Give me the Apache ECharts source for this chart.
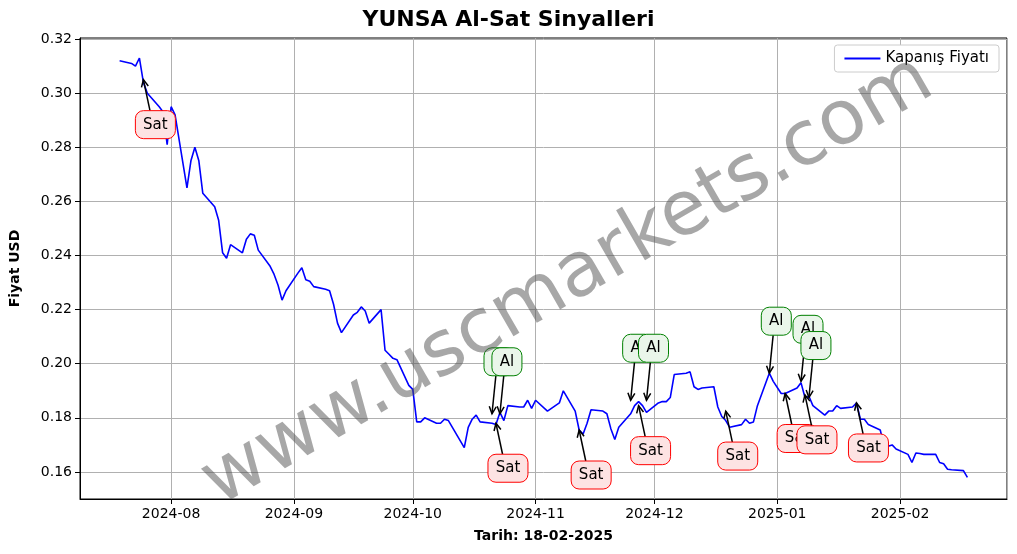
<!DOCTYPE html><html><head><meta charset="utf-8"><script src="https://cdn.jsdelivr.net/npm/echarts@6/dist/echarts.min.js"></script>
<style>html,body{margin:0;padding:0;background:#fff}#c{width:1017px;height:554px}</style></head><body><div id="c"></div><script>
const dates=["2024-07-19","2024-07-22","2024-07-23","2024-07-24","2024-07-25","2024-07-26","2024-07-29","2024-07-30","2024-07-31","2024-08-01","2024-08-02","2024-08-05","2024-08-06","2024-08-07","2024-08-08","2024-08-09","2024-08-12","2024-08-13","2024-08-14","2024-08-15","2024-08-16","2024-08-19","2024-08-20","2024-08-21","2024-08-22","2024-08-23","2024-08-26","2024-08-27","2024-08-28","2024-08-29","2024-08-30","2024-09-02","2024-09-03","2024-09-04","2024-09-05","2024-09-06","2024-09-09","2024-09-10","2024-09-11","2024-09-12","2024-09-13","2024-09-16","2024-09-17","2024-09-18","2024-09-19","2024-09-20","2024-09-23","2024-09-24","2024-09-25","2024-09-26","2024-09-27","2024-09-30","2024-10-01","2024-10-02","2024-10-03","2024-10-04","2024-10-07","2024-10-08","2024-10-09","2024-10-10","2024-10-11","2024-10-14","2024-10-15","2024-10-16","2024-10-17","2024-10-18","2024-10-21","2024-10-22","2024-10-23","2024-10-24","2024-10-25","2024-10-28","2024-10-29","2024-10-30","2024-10-31","2024-11-01","2024-11-04","2024-11-05","2024-11-06","2024-11-07","2024-11-08","2024-11-11","2024-11-12","2024-11-13","2024-11-14","2024-11-15","2024-11-18","2024-11-19","2024-11-20","2024-11-21","2024-11-22","2024-11-25","2024-11-26","2024-11-27","2024-11-28","2024-11-29","2024-12-02","2024-12-03","2024-12-04","2024-12-05","2024-12-06","2024-12-09","2024-12-10","2024-12-11","2024-12-12","2024-12-13","2024-12-16","2024-12-17","2024-12-18","2024-12-19","2024-12-20","2024-12-23","2024-12-24","2024-12-25","2024-12-26","2024-12-27","2024-12-30","2024-12-31","2025-01-02","2025-01-03","2025-01-06","2025-01-07","2025-01-08","2025-01-09","2025-01-10","2025-01-13","2025-01-14","2025-01-15","2025-01-16","2025-01-17","2025-01-20","2025-01-21","2025-01-22","2025-01-23","2025-01-24","2025-01-27","2025-01-28","2025-01-29","2025-01-30","2025-01-31","2025-02-03","2025-02-04","2025-02-05","2025-02-06","2025-02-07","2025-02-10","2025-02-11","2025-02-12","2025-02-13","2025-02-14","2025-02-17","2025-02-18"];
const prices=[.312,.311,.310,.313,.304,.300,.295,.293,.281,.295,.292,.265,.275,.280,.275,.263,.258,.253,.241,.239,.244,.241,.246,.248,.2475,.242,.236,.233,.229,.2235,.227,.2335,.2355,.231,.2305,.2285,.2275,.227,.222,.215,.2115,.218,.219,.221,.2195,.215,.220,.205,.2035,.202,.2015,.192,.1905,.1785,.1785,.180,.178,.178,.1795,.179,.1765,.169,.1765,.1795,.181,.1785,.178,.1775,.182,.179,.1845,.184,.184,.1865,.1835,.1865,.1825,.1835,.1845,.1855,.190,.1825,.1755,.174,.178,.183,.1825,.1815,.176,.172,.1765,.1815,.1845,.186,.1845,.182,.1855,.186,.186,.1875,.196,.1965,.197,.1915,.1905,.191,.1915,.184,.1805,.179,.1765,.1775,.1795,.178,.1785,.1845,.1965,.1935,.189,.189,.191,.193,.1875,.188,.1845,.181,.1825,.1825,.1845,.1835,.184,.1855,.1795,.1795,.1775,.1755,.1695,.1695,.170,.1685,.1665,.1635,.167,.1668,.1665,.1665,.1635,.163,.161,.1608,.1605,.158];
const sigDates=["2024-07-25","2024-10-21","2024-10-23","2024-10-22","2024-11-12","2024-11-25","2024-11-29","2024-11-27","2024-12-19","2024-12-30","2025-01-03","2025-01-07","2025-01-09","2025-01-08","2025-01-21"];
const sigPrices=[.305,.1815,.1815,.178,.1755,.1865,.1865,.1845,.1825,.1965,.189,.1935,.1875,.1885,.1855];
const sigTypes=["Sat","Al","Al","Sat","Sat","Al","Al","Sat","Sat","Al","Sat","Al","Al","Sat","Sat"];
const yTicks=[0.16,0.18,0.20,0.22,0.24,0.26,0.28,0.30,0.32];
const chart=echarts.init(document.getElementById('c'));
const F='DejaVu Sans';
chart.setOption({
 animation:false,
 textStyle:{fontFamily:F},
 title:{text:'YUNSA Al-Sat Sinyalleri',left:'center',top:4,textStyle:{fontFamily:F,fontSize:22,fontWeight:'bold',color:'#000'}},
 legend:{right:18,top:45,backgroundColor:'#fff',borderColor:'#ccc',borderWidth:1,borderRadius:3,padding:[6,10],itemWidth:36,itemHeight:2,textStyle:{fontFamily:F,fontSize:15,color:'#000'},data:[{name:'Kapanış Fiyatı',icon:'rect'}]},
 grid:{left:78,right:10,top:38,bottom:55,containLabel:false,show:true,borderColor:'#000',borderWidth:1},
 xAxis:{type:'time',min:'2024-07-09',max:'2025-02-28',minInterval:28*86400000,splitNumber:7,
  name:'Tarih: 18-02-2025',nameLocation:'middle',nameGap:30,nameTextStyle:{fontFamily:F,fontWeight:'bold',fontSize:14,color:'#000'},
  axisLine:{lineStyle:{color:'#000'}},axisTick:{lineStyle:{color:'#000'}},
  axisLabel:{formatter:'{yyyy}-{MM}',fontSize:14,color:'#000',fontFamily:F,hideOverlap:false},
  splitLine:{show:true,lineStyle:{color:'#b0b0b0'}}},
 yAxis:{type:'value',min:0.15,max:0.3204,interval:0.01,
  name:'Fiyat USD',nameLocation:'middle',nameGap:58,nameTextStyle:{fontFamily:F,fontWeight:'bold',fontSize:14,color:'#000'},
  axisLine:{show:true,lineStyle:{color:'#000'}},axisTick:{show:true,customValues:yTicks,lineStyle:{color:'#000'}},
  axisLabel:{customValues:yTicks,formatter:v=>v.toFixed(2),fontSize:14,color:'#000',fontFamily:F},
  splitLine:{show:false}},
 graphic:[{type:'text',rotation:Math.PI*30/180,x:568,y:282,
  style:{text:'www.uscmarkets.com',font:'76px "DejaVu Sans"',fill:'rgba(80,80,80,0.5)',textAlign:'center',textVerticalAlign:'middle'},z:100}],
 series:[{name:'Kapanış Fiyatı',type:'line',data:dates.map((d,i)=>[d,prices[i]]),showSymbol:false,lineStyle:{color:'#0000ff',width:1.6},itemStyle:{color:'#0000ff'},
  markLine:{silent:true,symbol:'none',label:{show:false},lineStyle:{color:'#b0b0b0',type:'solid',width:1},z:0,data:yTicks.map(v=>({yAxis:v}))}},
 {type:'custom',data:sigDates.map((d,i)=>[d,sigPrices[i],sigTypes[i]==='Al'?1:0]),z:10,
  renderItem:(p,api)=>{const t=api.coord([api.value(0),api.value(1)]);const al=api.value(2)===1;
   const dx=al?7:12,dy=al?-52:45;const lx=t[0]+dx,ly=t[1]+dy;
   const txt=al?'Al':'Sat';const w=al?30:40,h=28;
   const sx=lx-dx*0.45, sy=ly+(al?14:-14);
   const ang=Math.atan2(t[1]-sy,t[0]-sx);const a=8;
   return {type:'group',children:[
    {type:'line',shape:{x1:sx,y1:sy,x2:t[0],y2:t[1]},style:{stroke:'#000',lineWidth:1.5}},
    {type:'polyline',shape:{points:[[t[0]-a*Math.cos(ang-0.45),t[1]-a*Math.sin(ang-0.45)],[t[0],t[1]],[t[0]-a*Math.cos(ang+0.45),t[1]-a*Math.sin(ang+0.45)]]},style:{stroke:'#000',fill:null,lineWidth:1.5}},
    {type:'rect',shape:{x:lx-w/2,y:ly-h/2,width:w,height:h,r:8},style:{fill:al?'#eaf6ea':'#fde3e3',stroke:al?'green':'red',lineWidth:1}},
    {type:'text',style:{x:lx,y:ly,text:txt,font:'15px "DejaVu Sans"',fill:'#000',align:'center',verticalAlign:'middle'}}]};}}]
});
</script></body></html>
